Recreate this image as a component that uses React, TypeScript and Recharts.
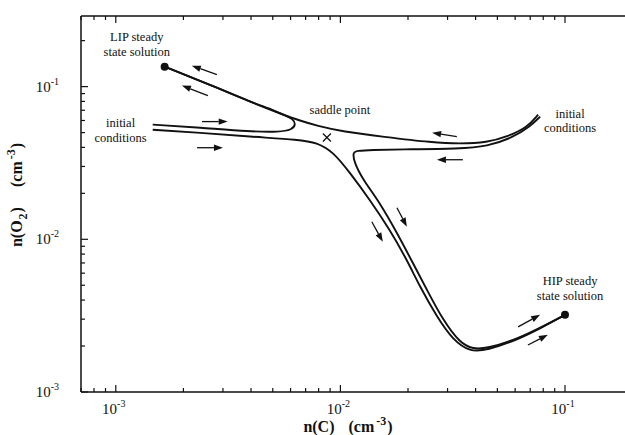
import { ComposedChart, Line, Scatter, XAxis, YAxis, ReferenceLine, ReferenceDot, Label } from 'recharts';

const INK = '#111';
const SERIF = '"Liberation Serif", "Times New Roman", serif';

// trajectories in the n(C) - n(O2) plane (cm^-3)
// left initial conditions, folds back near the saddle and ends at the LIP state
const leftUpperC = [1.46e-3, 2.37e-3, 3.95e-3, 5.38e-3, 6.08e-3, 6.34e-3, 6.14e-3, 5.66e-3, 5.1e-3, 3.95e-3, 2.82e-3, 1.65e-3];
const leftUpperO2 = [0.0564, 0.0539, 0.0507, 0.0504, 0.0522, 0.0564, 0.0617, 0.0646, 0.0697, 0.0797, 0.0985, 0.135];

// left initial conditions, passes under the saddle and ends at the HIP state
const leftLowerC = [1.46e-3, 2.37e-3, 3.95e-3, 6.61e-3, 7.85e-3, 9.27e-3, 0.01102, 0.01352, 0.0166, 0.01977, 0.0226, 0.02692, 0.0317, 0.03774, 0.045, 0.0611, 0.0798, 0.1];
const leftLowerO2 = [0.0522, 0.0499, 0.047, 0.0449, 0.043, 0.0375, 0.0273, 0.01816, 0.01154, 7.34e-3, 4.89e-3, 3.1e-3, 2.19e-3, 1.83e-3, 1.88e-3, 2.19e-3, 2.67e-3, 3.2e-3];

// right initial conditions, passes over the saddle to the LIP state
const rightUpperC = [0.0759, 0.0678, 0.0552, 0.045, 0.0341, 0.0258, 0.01545, 0.01026, 7.85e-3, 6.61e-3, 5.55e-3, 3.95e-3, 2.82e-3, 1.65e-3];
const rightUpperO2 = [0.0655, 0.0539, 0.047, 0.043, 0.0422, 0.043, 0.047, 0.0507, 0.0555, 0.0598, 0.0655, 0.0797, 0.0985, 0.135];

// right initial conditions, turns down near the saddle to the HIP state
const rightLowerC = [0.0775, 0.0698, 0.0586, 0.045, 0.0341, 0.0184, 0.0138, 0.0118, 0.01138, 0.01148, 0.01259, 0.015, 0.01786, 0.021, 0.02428, 0.0286, 0.0341, 0.0389, 0.045, 0.0611, 0.0798, 0.1];
const rightLowerO2 = [0.0636, 0.0547, 0.0464, 0.0405, 0.0392, 0.0388, 0.0385, 0.038, 0.0372, 0.0322, 0.0246, 0.01734, 0.01104, 7.02e-3, 4.67e-3, 2.96e-3, 2.09e-3, 1.91e-3, 1.93e-3, 2.22e-3, 2.69e-3, 3.2e-3];

// LIP and HIP steady states, saddle point
const steadyC = [1.65e-3, 0.1];
const steadyO2 = [0.135, 3.2e-3];
const saddleC = [8.71e-3];
const saddleO2 = [0.0464];

// flow direction arrows: [fromC, fromO2, toC, toO2]
const arrows: [number, number, number, number][] = [
    [2.82e-3, 0.12, 2.18e-3, 0.137],
    [2.57e-3, 0.0873, 1.97e-3, 0.1015],
    [2.42e-3, 0.059, 3.15e-3, 0.059],
    [2.3e-3, 0.0398, 3.0e-3, 0.0398],
    [0.033, 0.047, 0.0256, 0.0499],
    [0.0351, 0.0332, 0.0269, 0.0332],
    [0.01786, 0.01611, 0.01977, 0.01208],
    [0.0138, 0.01303, 0.01545, 9.64e-3],
    [0.0618, 2.67e-3, 0.0775, 3.2e-3],
    [0.0684, 2.03e-3, 0.0839, 2.37e-3],
];

// annotations: one entry per text line, anchored at its baseline centre
const noteText = ['LIP steady', 'state solution', 'initial', 'conditions', 'saddle point', 'initial', 'conditions', 'HIP steady', 'state solution'];
const noteC = [1.24e-3, 1.24e-3, 1.05e-3, 1.05e-3, 9.95e-3, 0.1053, 0.1053, 0.1053, 0.1053];
const noteO2 = [0.2, 0.1595, 0.054, 0.0432, 0.0665, 0.0625, 0.0501, 5.05e-3, 4.03e-3];

const xTicks = [7e-4, 8e-4, 9e-4, 1e-3, 2e-3, 3e-3, 4e-3, 5e-3, 6e-3, 7e-3, 8e-3, 9e-3, 0.01, 0.02, 0.03, 0.04, 0.05, 0.06, 0.07, 0.08, 0.09, 0.1];
const yTicks = [1e-3, 2e-3, 3e-3, 4e-3, 5e-3, 6e-3, 7e-3, 8e-3, 9e-3, 0.01, 0.02, 0.03, 0.04, 0.05, 0.06, 0.07, 0.08, 0.09, 0.1, 0.2];

const zip = (xs: number[], ys: number[]) => xs.map((x, i) => ({ x, y: ys[i] }));

const trajectories = [
    zip(leftUpperC, leftUpperO2),
    zip(leftLowerC, leftLowerO2),
    zip(rightUpperC, rightUpperO2),
    zip(rightLowerC, rightLowerO2),
];

const decade = (v: number) => {
    const l = Math.log10(v);
    return Math.abs(l - Math.round(l)) < 1e-6 ? Math.round(l) : null;
};

const XTick = ({ x, y, payload, side }: any) => {
    const exp = decade(payload.value);
    const len = exp !== null ? 7 : 4;
    const dir = side === 'top' ? 1 : -1;
    return (
        <g>
            <line x1={x} y1={y} x2={x} y2={y + dir * len} stroke={INK} strokeWidth={1.2} />
            {side === 'bottom' && exp !== null && (
                <text x={x - 2} y={y + 22} textAnchor="middle" fontFamily={SERIF} fontSize={15} fill={INK}>
                    10<tspan dy={-7} fontSize={10}>{exp}</tspan>
                </text>
            )}
        </g>
    );
};

const YTick = ({ x, y, payload }: any) => {
    const exp = decade(payload.value);
    const len = exp !== null ? 7 : 4;
    return (
        <g>
            <line x1={x} y1={y} x2={x + len} y2={y} stroke={INK} strokeWidth={1.2} />
            {exp !== null && (
                <text x={x - 22} y={y + 5} textAnchor="end" fontFamily={SERIF} fontSize={15} fill={INK}>
                    10<tspan dy={-7} fontSize={10}>{exp}</tspan>
                </text>
            )}
        </g>
    );
};

const XTitle = ({ viewBox }: any) => {
    const cx = viewBox.x + viewBox.width / 2 - 5;
    const by = viewBox.y + 40;
    return (
        <text x={cx} y={by} textAnchor="middle" fontFamily={SERIF} fontSize={16} fontWeight="bold" fill={INK}>
            n(C)<tspan dx={14}>(cm</tspan>
            <tspan dx={2} dy={-7} fontSize={12}>-3</tspan>
            <tspan dx={1} dy={7}>)</tspan>
        </text>
    );
};

const YTitle = ({ viewBox }: any) => {
    const bx = 22;
    const cy = viewBox.y + viewBox.height / 2 - 9;
    return (
        <text x={bx} y={cy} transform={`rotate(-90, ${bx}, ${cy})`} textAnchor="middle" fontFamily={SERIF} fontSize={16} fontWeight="bold" fill={INK}>
            n(O<tspan dx={1} dy={5} fontSize={12}>2</tspan>
            <tspan dx={1} dy={-5}>)</tspan>
            <tspan dx={20}>(cm</tspan>
            <tspan dx={2} dy={-7} fontSize={12}>-3</tspan>
            <tspan dx={1} dy={7}>)</tspan>
        </text>
    );
};

const Arrow = ({ x1, y1, x2, y2 }: any) => {
    const a = Math.atan2(y2 - y1, x2 - x1);
    const len = 9;
    const w = 3.2;
    const bx = x2 - len * Math.cos(a);
    const by = y2 - len * Math.sin(a);
    const px = -Math.sin(a) * w;
    const py = Math.cos(a) * w;
    return (
        <g>
            <line x1={x1} y1={y1} x2={bx} y2={by} stroke={INK} strokeWidth={1.3} />
            <polygon points={`${x2},${y2} ${bx + px},${by + py} ${bx - px},${by - py}`} fill={INK} />
        </g>
    );
};

const Note = (text: string) => ({ cx, cy }: any) => (
    <text x={cx} y={cy} textAnchor="middle" fontFamily={SERIF} fontSize={12.5} fill={INK}>
        {text}
    </text>
);

const Dot = ({ cx, cy }: any) => <circle cx={cx} cy={cy} r={4} fill={INK} />;

const Cross = ({ cx, cy }: any) => (
    <g stroke={INK} strokeWidth={1.3}>
        <line x1={cx - 4} y1={cy - 4} x2={cx + 4} y2={cy + 4} />
        <line x1={cx - 4} y1={cy + 4} x2={cx + 4} y2={cy - 4} />
    </g>
);

export default function App() {
    return (
        <div style={{ position: 'absolute', left: 0, top: 0, width: 625, height: 435, background: '#fff' }}>
            <ComposedChart width={625} height={435} margin={{ top: 15, right: 0, bottom: 0, left: 0 }}>
                <XAxis
                    xAxisId={0}
                    dataKey="x"
                    type="number"
                    scale="log"
                    domain={[7e-4, 0.185]}
                    allowDataOverflow
                    ticks={xTicks}
                    interval={0}
                    height={43}
                    tickSize={0}
                    tickMargin={0}
                    tickLine={false}
                    axisLine={{ stroke: INK, strokeWidth: 1.5 }}
                    tick={<XTick side="bottom" />}
                >
                    <Label content={<XTitle />} />
                </XAxis>
                <XAxis
                    xAxisId="top"
                    orientation="top"
                    dataKey="x"
                    type="number"
                    scale="log"
                    domain={[7e-4, 0.185]}
                    allowDataOverflow
                    ticks={xTicks}
                    interval={0}
                    height={1}
                    tickSize={0}
                    tickMargin={0}
                    tickLine={false}
                    axisLine={{ stroke: INK, strokeWidth: 1.5 }}
                    tick={<XTick side="top" />}
                />
                <YAxis
                    dataKey="y"
                    type="number"
                    scale="log"
                    domain={[1e-3, 0.29]}
                    allowDataOverflow
                    ticks={yTicks}
                    interval={0}
                    width={81}
                    tickSize={0}
                    tickMargin={0}
                    tickLine={false}
                    axisLine={{ stroke: INK, strokeWidth: 1.5 }}
                    tick={<YTick />}
                >
                    <Label content={<YTitle />} />
                </YAxis>

                {trajectories.map((d, i) => (
                    <Line
                        key={i}
                        data={d}
                        dataKey="y"
                        type="basis"
                        stroke={INK}
                        strokeWidth={1.9}
                        dot={false}
                        activeDot={false}
                        isAnimationActive={false}
                    />
                ))}

                <Scatter data={zip(steadyC, steadyO2)} dataKey="y" shape={<Dot />} isAnimationActive={false} />
                <Scatter data={zip(saddleC, saddleO2)} dataKey="y" shape={<Cross />} isAnimationActive={false} />

                {arrows.map(([x1, y1, x2, y2], i) => (
                    <ReferenceLine key={`a${i}`} segment={[{ x: x1, y: y1 }, { x: x2, y: y2 }]} shape={Arrow} />
                ))}

                {noteText.map((t, i) => (
                    <ReferenceDot key={`n${i}`} x={noteC[i]} y={noteO2[i]} r={0} shape={Note(t)} />
                ))}
            </ComposedChart>
        </div>
    );
}
